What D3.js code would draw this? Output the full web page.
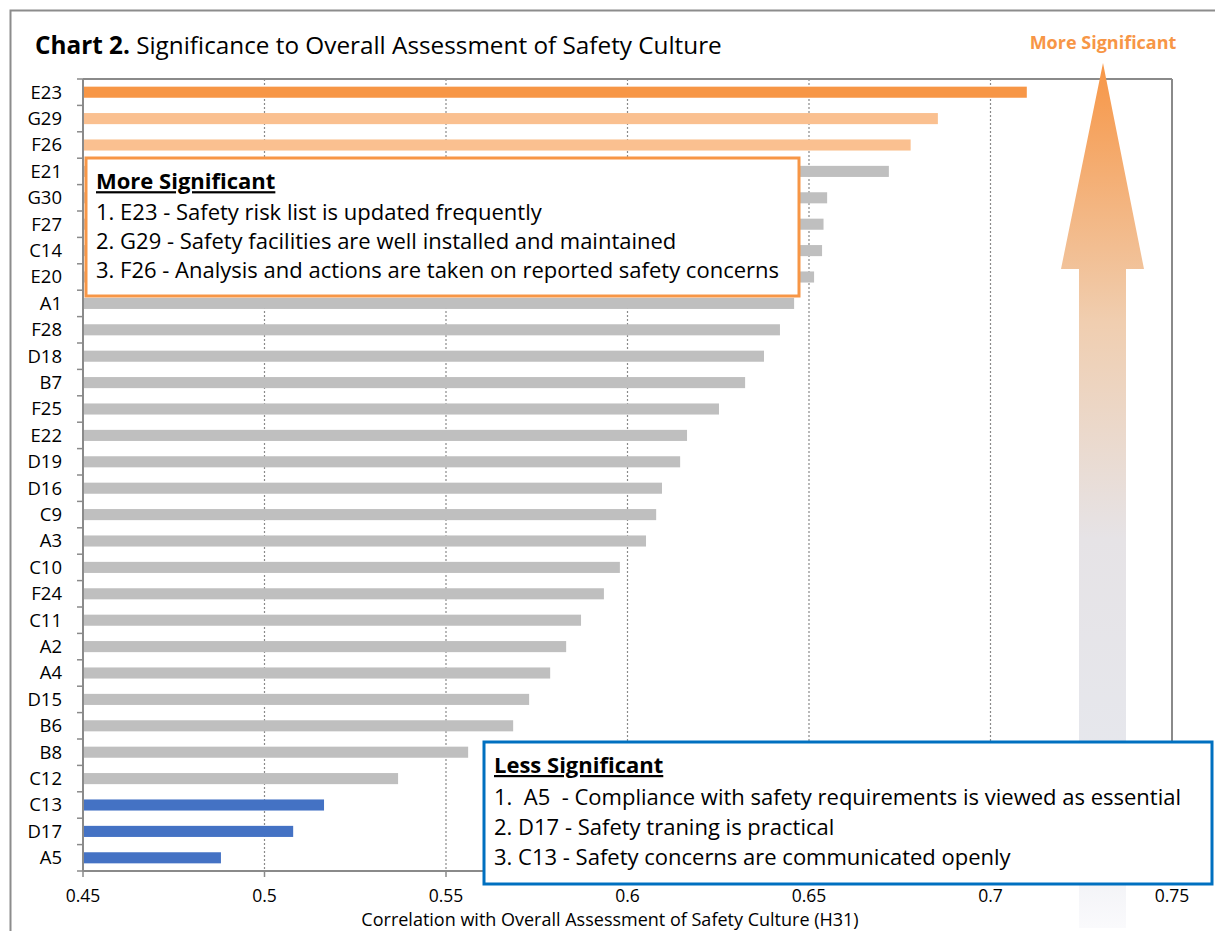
<!DOCTYPE html>
<html>
<head>
<meta charset="utf-8">
<script src="https://cdn.jsdelivr.net/npm/d3@7"></script>
<style>
  body { margin: 0; background: #fff; }
  svg text { font-family: "Open Sans", Lato, "DejaVu Sans", sans-serif; white-space: pre; }
</style>
</head>
<body>
<script>
// data (top to bottom)
var categories = ["E23","G29","F26","E21","G30","F27","C14","E20","A1","F28",
  "D18","B7","F25","E22","D19","D16","C9","A3","C10","F24",
  "C11","A2","A4","D15","B6","B8","C12","C13","D17","A5"];
var values = [0.710,0.6855,0.678,0.672,0.655,0.654,0.6536,0.6514,0.6459,0.642,
  0.6376,0.6324,0.6252,0.6164,0.6145,0.6095,0.6079,0.6051,0.5979,0.5935,
  0.5872,0.5831,0.5787,0.5729,0.5685,0.5561,0.5368,0.5164,0.5079,0.488];
var xTicks = [0.45,0.5,0.55,0.6,0.65,0.7,0.75];
var topOne = ["E23"];
var topNext = ["G29","F26"];
var bottomThree = ["C13","D17","A5"];
var moreLines = ["1. E23 - Safety risk list is updated frequently",
  "2. G29 - Safety facilities are well installed and maintained",
  "3. F26 - Analysis and actions are taken on reported safety concerns"];
var lessLines = ["1.  A5  - Compliance with safety requirements is viewed as essential",
  "2. D17 - Safety traning is practical",
  "3. C13 - Safety concerns are communicated openly"];

var svgWidth = 1215, svgHeight = 931;
var margin = {top: 79, left: 83, right: 43, bottom: 60};
var width = 1172 - margin.left;
var height = 871 - margin.top;

var svg = d3.select("body").append("svg")
  .attr("width", svgWidth).attr("height", svgHeight);

// outer frame
svg.append("rect").attr("x", 10.5).attr("y", 10.5)
  .attr("width", 1230).attr("height", 940)
  .attr("fill", "none").attr("stroke", "#8c8c8c").attr("stroke-width", 2);

// title
var title = svg.append("text").attr("x", 35).attr("y", 54)
  .attr("font-size", 24.3).attr("fill", "#000");
title.append("tspan").attr("font-weight", "bold").text("Chart 2.");
title.append("tspan").text(" Significance to Overall Assessment of Safety Culture");

var chartGroup = svg.append("g")
  .attr("transform", `translate(${margin.left},${margin.top})`);

var xScale = d3.scaleLinear().domain([0.45, 0.75]).range([0, width]);
var yScale = d3.scaleBand().domain(categories).range([0, height])
  .paddingInner(0.58).paddingOuter(0.29);

// gridlines
chartGroup.selectAll(".grid")
  .data(xTicks.slice(1, -1))
  .enter().append("line")
  .attr("x1", d => xScale(d)).attr("x2", d => xScale(d))
  .attr("y1", 0).attr("y2", height)
  .attr("stroke", "#8a8a8a").attr("stroke-width", 1.2)
  .attr("stroke-dasharray", "2,2");

// frame top and right
chartGroup.append("line").attr("x1", 0).attr("x2", width).attr("y1", 0).attr("y2", 0)
  .attr("stroke", "#8a8a8a").attr("stroke-width", 2);
chartGroup.append("line").attr("x1", width).attr("x2", width).attr("y1", 0).attr("y2", height)
  .attr("stroke", "#8a8a8a").attr("stroke-width", 2);

// big arrow
var defs = svg.append("defs");
var grad = defs.append("linearGradient").attr("id", "arrowGrad")
  .attr("x1", 0).attr("y1", 0).attr("x2", 0).attr("y2", 1);
grad.append("stop").attr("offset", "0%").attr("stop-color", "#f79646");
grad.append("stop").attr("offset", "30%").attr("stop-color", "#f0ceb0");
grad.append("stop").attr("offset", "55%").attr("stop-color", "#e6e3e6");
grad.append("stop").attr("offset", "85%").attr("stop-color", "#e6e8ee");
grad.append("stop").attr("offset", "100%").attr("stop-color", "#fafafc");

var ax = 1103;
svg.append("path")
  .attr("d", `M${ax},63 L${ax + 41},269 L${ax + 23},269 L${ax + 23},928 L${ax - 24},928 L${ax - 24},269 L${ax - 42},269 Z`)
  .attr("fill", "url(#arrowGrad)");

svg.append("text").attr("x", ax).attr("y", 49)
  .attr("text-anchor", "middle").attr("font-size", 18).attr("font-weight", "bold")
  .attr("fill", "#f79646").text("More Significant");

function barColor(c) {
  if (topOne.includes(c)) return "#f79646";
  if (topNext.includes(c)) return "#fac090";
  if (bottomThree.includes(c)) return "#4472c4";
  return "#bfbfbf";
}

// bars
chartGroup.selectAll(".bar")
  .data(categories)
  .enter().append("rect")
  .attr("x", 0)
  .attr("y", d => yScale(d))
  .attr("width", (d, i) => xScale(values[i]))
  .attr("height", yScale.bandwidth())
  .attr("fill", d => barColor(d));

// left axis
chartGroup.append("line").attr("x1", 0).attr("x2", 0).attr("y1", 0).attr("y2", height)
  .attr("stroke", "#8a8a8a").attr("stroke-width", 2);
chartGroup.selectAll(".ytick")
  .data(d3.range(categories.length + 1))
  .enter().append("line")
  .attr("x1", -6).attr("x2", 0)
  .attr("y1", i => i * yScale.step()).attr("y2", i => i * yScale.step())
  .attr("stroke", "#8a8a8a").attr("stroke-width", 1.5);
chartGroup.selectAll(".ylab")
  .data(categories)
  .enter().append("text")
  .attr("x", -21)
  .attr("y", d => yScale(d) + yScale.bandwidth() / 2)
  .attr("dy", "0.35em")
  .attr("text-anchor", "end")
  .attr("font-size", 18.5).attr("fill", "#000")
  .text(d => d);

// bottom axis
chartGroup.append("line").attr("x1", 0).attr("x2", width).attr("y1", height).attr("y2", height)
  .attr("stroke", "#8a8a8a").attr("stroke-width", 2);
chartGroup.selectAll(".xtick")
  .data(xTicks)
  .enter().append("line")
  .attr("x1", d => xScale(d)).attr("x2", d => xScale(d))
  .attr("y1", height).attr("y2", height + 6)
  .attr("stroke", "#8a8a8a").attr("stroke-width", 1.5);
chartGroup.selectAll(".xlab")
  .data(xTicks)
  .enter().append("text")
  .attr("x", d => xScale(d))
  .attr("y", height + 31)
  .attr("text-anchor", "middle")
  .attr("font-size", 17.5).attr("fill", "#000")
  .text(d => d);

svg.append("text").attr("x", 610).attr("y", 926)
  .attr("text-anchor", "middle").attr("font-size", 18).attr("fill", "#000")
  .text("Correlation with Overall Assessment of Safety Culture (H31)");

// annotation boxes
function noteBox(x, y, w, h, color, heading, lines, y0, gap) {
  var g = svg.append("g");
  g.append("rect").attr("x", x).attr("y", y).attr("width", w).attr("height", h)
    .attr("fill", "#fff").attr("stroke", color).attr("stroke-width", 3);
  g.append("text").attr("x", x + 10).attr("y", y + y0 - gap - 2)
    .attr("font-size", 22).attr("font-weight", "bold")
    .attr("text-decoration", "underline").text(heading);
  lines.forEach(function(t, i) {
    g.append("text").attr("x", x + 10).attr("y", y + y0 + i * gap)
      .attr("font-size", 22).attr("fill", "#000").text(t);
  });
}
noteBox(86, 158, 713, 138, "#f79646", "More Significant", moreLines, 62, 28.8);
noteBox(484, 742, 728, 142, "#0070c0", "Less Significant", lessLines, 63, 30);
</script>
</body>
</html>
